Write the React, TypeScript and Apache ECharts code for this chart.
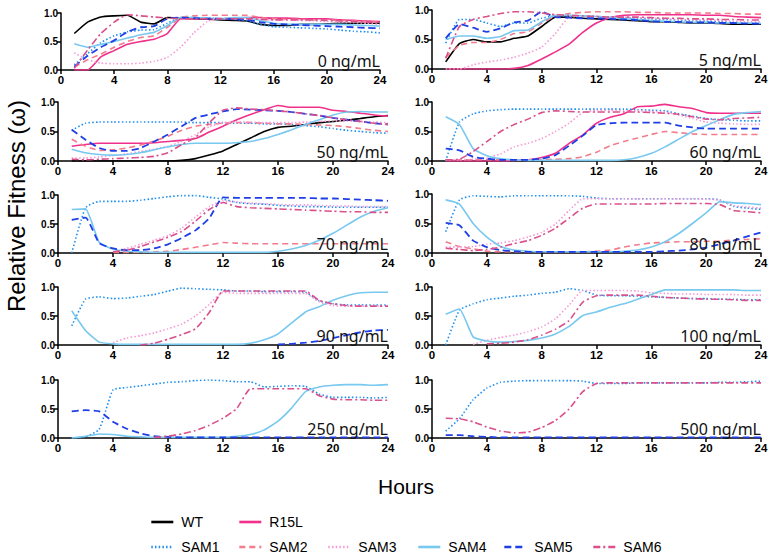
import React, { useEffect, useRef } from "react";
import * as echarts from "echarts";

const HOURS = [1, 2, 3, 4, 5, 6, 7, 8, 9, 10, 11, 12, 13, 14, 15, 16, 17, 18, 19, 20, 21, 22, 23, 24];
const X_TICKS = [0, 4, 8, 12, 16, 20, 24];
const Y_TICKS = [0, 0.5, 1.0];
const PANEL_LABELS = ["0 ng/mL", "5 ng/mL", "50 ng/mL", "60 ng/mL", "70 ng/mL", "80 ng/mL", "90 ng/mL", "100 ng/mL", "250 ng/mL", "500 ng/mL"];
const SERIES_NAMES = ["WT", "R15L", "SAM1", "SAM2", "SAM3", "SAM4", "SAM5", "SAM6"];

// 0 ng/mL
const WT_0 = [0.64, 0.84, 0.93, 0.95, 0.96, 0.84, 0.81, 0.92, 0.91, 0.90, 0.89, 0.88, 0.87, 0.86, 0.80, 0.78, 0.78, 0.80, 0.80, 0.81, 0.82, 0.82, 0.82, 0.82];
const R15L_0 = [0, 0, 0.23, 0.34, 0.45, 0.50, 0.54, 0.64, 0.90, 0.90, 0.90, 0.90, 0.91, 0.92, 0.92, 0.91, 0.91, 0.90, 0.90, 0.90, 0.88, 0.87, 0.86, 0.85];
const SAM1_0 = [0.09, 0.29, 0.48, 0.60, 0.67, 0.70, 0.71, 0.82, 0.92, 0.92, 0.91, 0.90, 0.89, 0.86, 0.80, 0.76, 0.75, 0.74, 0.73, 0.72, 0.70, 0.68, 0.67, 0.65];
const SAM2_0 = [0.05, 0.18, 0.28, 0.40, 0.50, 0.57, 0.60, 0.75, 0.92, 0.95, 0.96, 0.96, 0.96, 0.96, 0.92, 0.90, 0.89, 0.89, 0.88, 0.88, 0.87, 0.86, 0.85, 0.84];
const SAM3_0 = [0.30, 0.18, 0.12, 0.11, 0.11, 0.12, 0.15, 0.22, 0.40, 0.65, 0.85, 0.90, 0.90, 0.90, 0.89, 0.88, 0.88, 0.87, 0.86, 0.85, 0.84, 0.83, 0.82, 0.80];
const SAM4_0 = [0.46, 0.40, 0.45, 0.50, 0.56, 0.62, 0.66, 0.78, 0.92, 0.92, 0.91, 0.90, 0.92, 0.92, 0.87, 0.82, 0.80, 0.80, 0.80, 0.80, 0.80, 0.79, 0.78, 0.77];
const SAM5_0 = [0.06, 0.25, 0.40, 0.52, 0.67, 0.75, 0.77, 0.90, 0.92, 0.91, 0.90, 0.90, 0.89, 0.88, 0.84, 0.81, 0.80, 0.79, 0.78, 0.77, 0.76, 0.75, 0.74, 0.73];
const SAM6_0 = [0.03, 0.35, 0.64, 0.84, 0.97, 0.95, 0.93, 0.91, 0.90, 0.90, 0.90, 0.90, 0.90, 0.90, 0.89, 0.88, 0.88, 0.88, 0.88, 0.87, 0.86, 0.85, 0.84, 0.83];

// 5 ng/mL
const WT_5 = [0.12, 0.43, 0.50, 0.46, 0.46, 0.52, 0.56, 0.72, 0.88, 0.88, 0.86, 0.85, 0.84, 0.83, 0.82, 0.80, 0.80, 0.79, 0.78, 0.78, 0.77, 0.76, 0.76, 0.76];
const R15L_5 = [0, 0, 0, 0, 0, 0.01, 0.06, 0.17, 0.29, 0.42, 0.62, 0.78, 0.87, 0.91, 0.92, 0.92, 0.92, 0.92, 0.92, 0.91, 0.91, 0.89, 0.88, 0.87];
const SAM1_5 = [0.44, 0.84, 0.84, 0.78, 0.72, 0.78, 0.78, 0.86, 0.90, 0.90, 0.90, 0.89, 0.88, 0.87, 0.86, 0.85, 0.84, 0.83, 0.82, 0.81, 0.80, 0.79, 0.78, 0.77];
const SAM2_5 = [0.20, 0.40, 0.45, 0.45, 0.50, 0.60, 0.63, 0.78, 0.89, 0.94, 0.96, 0.97, 0.97, 0.97, 0.96, 0.96, 0.95, 0.95, 0.95, 0.95, 0.94, 0.94, 0.93, 0.93];
const SAM3_5 = [0, 0, 0.07, 0.12, 0.15, 0.20, 0.27, 0.37, 0.60, 0.88, 0.89, 0.89, 0.88, 0.88, 0.87, 0.86, 0.85, 0.84, 0.83, 0.83, 0.82, 0.81, 0.80, 0.80];
const SAM4_5 = [0.50, 0.56, 0.56, 0.52, 0.55, 0.65, 0.66, 0.80, 0.91, 0.91, 0.90, 0.89, 0.87, 0.85, 0.84, 0.82, 0.81, 0.80, 0.79, 0.79, 0.78, 0.78, 0.78, 0.77];
const SAM5_5 = [0.52, 0.76, 0.70, 0.63, 0.69, 0.79, 0.82, 0.97, 0.88, 0.87, 0.86, 0.86, 0.85, 0.84, 0.83, 0.81, 0.80, 0.80, 0.79, 0.79, 0.78, 0.78, 0.77, 0.77];
const SAM6_5 = [0.18, 0.72, 0.84, 0.89, 0.94, 0.97, 0.97, 0.95, 0.92, 0.91, 0.90, 0.89, 0.88, 0.88, 0.88, 0.87, 0.86, 0.86, 0.85, 0.85, 0.84, 0.84, 0.83, 0.83];

// 50 ng/mL
const WT_50 = [0, 0, 0, 0, 0, 0, 0, 0, 0.01, 0.04, 0.10, 0.17, 0.28, 0.39, 0.50, 0.57, 0.59, 0.62, 0.65, 0.67, 0.69, 0.72, 0.75, 0.77];
const R15L_50 = [0.25, 0.28, 0.30, 0.30, 0.30, 0.30, 0.31, 0.33, 0.35, 0.38, 0.49, 0.59, 0.70, 0.79, 0.87, 0.94, 0.91, 0.91, 0.91, 0.86, 0.84, 0.81, 0.78, 0.76];
const SAM1_50 = [0.52, 0.64, 0.66, 0.66, 0.66, 0.66, 0.66, 0.66, 0.66, 0.65, 0.65, 0.65, 0.64, 0.64, 0.63, 0.63, 0.62, 0.60, 0.58, 0.55, 0.52, 0.50, 0.48, 0.47];
const SAM2_50 = [0.37, 0.25, 0.18, 0.19, 0.22, 0.27, 0.34, 0.42, 0.52, 0.59, 0.62, 0.64, 0.65, 0.65, 0.64, 0.63, 0.63, 0.62, 0.61, 0.60, 0.58, 0.55, 0.52, 0.50];
const SAM3_50 = [0.05, 0.05, 0.07, 0.09, 0.12, 0.16, 0.20, 0.25, 0.33, 0.45, 0.58, 0.65, 0.66, 0.66, 0.65, 0.65, 0.65, 0.66, 0.67, 0.68, 0.68, 0.67, 0.66, 0.65];
const SAM4_50 = [0.20, 0.14, 0.11, 0.10, 0.11, 0.14, 0.19, 0.24, 0.28, 0.30, 0.30, 0.30, 0.31, 0.33, 0.38, 0.45, 0.53, 0.62, 0.70, 0.78, 0.83, 0.84, 0.83, 0.83];
const SAM5_50 = [0.53, 0.36, 0.22, 0.17, 0.17, 0.22, 0.33, 0.45, 0.59, 0.73, 0.79, 0.84, 0.88, 0.87, 0.86, 0.85, 0.83, 0.80, 0.77, 0.73, 0.70, 0.67, 0.64, 0.62];
const SAM6_50 = [0.03, 0.02, 0.03, 0.04, 0.05, 0.06, 0.08, 0.14, 0.28, 0.40, 0.65, 0.86, 0.90, 0.88, 0.87, 0.85, 0.83, 0.80, 0.77, 0.73, 0.70, 0.67, 0.64, 0.62];

// 60 ng/mL
const R15L_60 = [0, 0, 0, 0, 0, 0.01, 0.02, 0.06, 0.13, 0.30, 0.44, 0.64, 0.74, 0.80, 0.92, 0.93, 0.96, 0.92, 0.89, 0.82, 0.81, 0.81, 0.81, 0.81];
const SAM1_60 = [0, 0.66, 0.80, 0.85, 0.87, 0.88, 0.88, 0.88, 0.88, 0.88, 0.88, 0.88, 0.88, 0.88, 0.87, 0.86, 0.85, 0.80, 0.76, 0.72, 0.70, 0.69, 0.68, 0.68];
const SAM2_60 = [0.02, 0.02, 0.02, 0.02, 0.02, 0.02, 0.02, 0.02, 0.03, 0.04, 0.07, 0.15, 0.26, 0.33, 0.39, 0.45, 0.50, 0.48, 0.46, 0.45, 0.45, 0.45, 0.45, 0.45];
const SAM3_60 = [0.02, 0.02, 0.03, 0.05, 0.12, 0.24, 0.30, 0.38, 0.50, 0.64, 0.82, 0.86, 0.86, 0.85, 0.85, 0.84, 0.83, 0.78, 0.72, 0.66, 0.64, 0.63, 0.62, 0.62];
const SAM4_60 = [0.75, 0.62, 0.21, 0.09, 0.04, 0.02, 0.01, 0.01, 0.01, 0.01, 0.01, 0.01, 0.01, 0.02, 0.06, 0.13, 0.24, 0.37, 0.50, 0.60, 0.70, 0.79, 0.82, 0.84];
const SAM5_60 = [0.21, 0.18, 0.07, 0.04, 0.02, 0.02, 0.02, 0.04, 0.10, 0.26, 0.43, 0.61, 0.64, 0.65, 0.65, 0.65, 0.65, 0.60, 0.57, 0.55, 0.55, 0.55, 0.55, 0.55];
const SAM6_60 = [0.02, 0.03, 0.16, 0.33, 0.50, 0.62, 0.71, 0.82, 0.85, 0.84, 0.83, 0.83, 0.83, 0.83, 0.83, 0.82, 0.81, 0.79, 0.75, 0.71, 0.70, 0.72, 0.73, 0.74];

// 70 ng/mL
const SAM1_70 = [0, 0.78, 0.89, 0.89, 0.89, 0.91, 0.94, 0.97, 0.99, 0.99, 0.96, 0.93, 0.87, 0.85, 0.84, 0.82, 0.81, 0.80, 0.80, 0.79, 0.79, 0.79, 0.79, 0.79];
const SAM2_70 = [null, null, null, 0.01, 0.01, 0.01, 0.02, 0.03, 0.06, 0.10, 0.14, 0.18, 0.17, 0.16, 0.16, 0.16, 0.16, 0.16, 0.16, 0.16, 0.16, 0.16, 0.16, 0.16];
const SAM3_70 = [null, null, null, 0.02, 0.08, 0.15, 0.22, 0.30, 0.43, 0.62, 0.80, 0.90, 0.88, 0.86, 0.85, 0.84, 0.83, 0.83, 0.82, 0.81, 0.81, 0.80, 0.80, 0.80];
const SAM4_70 = [0.75, 0.76, 0.18, 0.07, 0.03, 0.02, 0.01, 0.01, 0.01, 0.01, 0.01, 0.01, 0.01, 0.01, 0.01, 0.03, 0.07, 0.13, 0.22, 0.34, 0.48, 0.62, 0.72, 0.78];
const SAM5_70 = [0.57, 0.61, 0.17, 0.08, 0.05, 0.05, 0.08, 0.15, 0.26, 0.39, 0.60, 0.96, 0.95, 0.95, 0.95, 0.95, 0.95, 0.95, 0.94, 0.94, 0.93, 0.92, 0.91, 0.90];
const SAM6_70 = [null, null, null, 0.02, 0.05, 0.11, 0.19, 0.27, 0.37, 0.55, 0.75, 0.87, 0.80, 0.78, 0.77, 0.76, 0.75, 0.74, 0.73, 0.72, 0.71, 0.71, 0.70, 0.70];

// 80 ng/mL
const SAM1_80 = [0.36, 0.90, 0.97, 0.96, 0.95, 0.97, 0.97, 0.97, 0.97, 0.97, 0.96, 0.93, 0.92, 0.92, 0.92, 0.92, 0.92, 0.92, 0.92, 0.92, 0.90, 0.79, 0.76, 0.74];
const SAM2_80 = [0.19, 0.11, 0.07, 0.03, 0.02, 0.02, 0.02, 0.02, 0.02, 0.02, 0.02, 0.03, 0.05, 0.10, 0.14, 0.17, 0.18, 0.19, 0.19, 0.20, 0.20, 0.22, 0.23, 0.24];
const SAM3_80 = [0.10, 0.10, 0.11, 0.15, 0.17, 0.21, 0.27, 0.35, 0.49, 0.72, 0.92, 0.92, 0.92, 0.92, 0.92, 0.92, 0.92, 0.92, 0.92, 0.91, 0.90, 0.80, 0.78, 0.76];
const SAM4_80 = [0.90, 0.83, 0.50, 0.27, 0.11, 0.05, 0.03, 0.02, 0.02, 0.02, 0.02, 0.02, 0.02, 0.03, 0.05, 0.10, 0.19, 0.33, 0.50, 0.68, 0.87, 0.85, 0.84, 0.82];
const SAM5_80 = [0.51, 0.47, 0.21, 0.10, 0.05, 0.03, 0.02, 0.02, 0.02, 0.02, 0.02, 0.02, 0.02, 0.02, 0.02, 0.02, 0.03, 0.04, 0.06, 0.09, 0.15, 0.21, 0.28, 0.35];
const SAM6_80 = [0.08, 0.06, 0.04, 0.06, 0.10, 0.16, 0.21, 0.30, 0.42, 0.59, 0.76, 0.83, 0.83, 0.83, 0.83, 0.83, 0.84, 0.84, 0.84, 0.84, 0.82, 0.72, 0.70, 0.68];

// 90 ng/mL
const SAM1_90 = [0.33, 0.79, 0.83, 0.80, 0.81, 0.84, 0.87, 0.93, 0.98, 0.97, 0.96, 0.95, 0.93, 0.93, 0.92, 0.92, 0.92, 0.91, 0.76, 0.71, 0.69, 0.69, 0.69, 0.69];
const SAM3_90 = [null, null, null, 0.04, 0.12, 0.16, 0.21, 0.28, 0.36, 0.50, 0.70, 0.91, 0.89, 0.89, 0.89, 0.89, 0.89, 0.89, 0.74, 0.68, 0.67, 0.67, 0.67, 0.67];
const SAM4_90 = [0.59, 0.25, 0.05, 0.02, 0.01, 0.01, 0.01, 0.01, 0.01, 0.01, 0.01, 0.01, 0.01, 0.03, 0.09, 0.19, 0.38, 0.57, 0.66, 0.77, 0.85, 0.90, 0.91, 0.91];
const SAM5_90 = [null, null, null, null, null, null, null, null, null, null, null, null, null, null, null, 0.01, 0.02, 0.04, 0.07, 0.12, 0.17, 0.22, 0.25, 0.26];
const SAM6_90 = [null, null, null, null, null, 0.0, 0.03, 0.10, 0.18, 0.28, 0.56, 0.93, 0.93, 0.93, 0.93, 0.93, 0.93, 0.93, 0.77, 0.71, 0.68, 0.67, 0.67, 0.67];

// 100 ng/mL
const SAM1_100 = [0, 0.60, 0.71, 0.78, 0.81, 0.84, 0.86, 0.89, 0.91, 0.97, 0.94, 0.86, 0.85, 0.85, 0.84, 0.83, 0.82, 0.81, 0.80, 0.80, 0.79, 0.79, 0.78, 0.78];
const SAM3_100 = [null, null, 0.01, 0.08, 0.13, 0.17, 0.23, 0.31, 0.45, 0.69, 0.94, 0.94, 0.94, 0.94, 0.93, 0.90, 0.89, 0.88, 0.88, 0.87, 0.87, 0.87, 0.86, 0.86];
const SAM4_100 = [0.53, 0.62, 0.14, 0.07, 0.05, 0.06, 0.08, 0.12, 0.19, 0.32, 0.51, 0.57, 0.65, 0.71, 0.79, 0.87, 0.95, 0.95, 0.95, 0.95, 0.95, 0.95, 0.94, 0.94];
const SAM6_100 = [null, null, null, 0.02, 0.03, 0.05, 0.09, 0.17, 0.27, 0.42, 0.74, 0.85, 0.86, 0.86, 0.86, 0.84, 0.82, 0.81, 0.80, 0.79, 0.79, 0.78, 0.77, 0.77];

// 250 ng/mL
const SAM1_250 = [0, 0.02, 0.15, 0.83, 0.87, 0.90, 0.93, 0.96, 0.97, 0.99, 1.0, 0.99, 0.97, 0.97, 0.88, 0.89, 0.90, 0.89, 0.76, 0.70, 0.70, 0.70, 0.69, 0.70];
const SAM4_250 = [0, 0.03, 0.07, 0.06, 0.03, 0.02, 0.01, 0.01, 0.01, 0.01, 0.01, 0.01, 0.03, 0.06, 0.14, 0.29, 0.52, 0.80, 0.88, 0.91, 0.92, 0.92, 0.91, 0.92];
const SAM5_250 = [0.46, 0.48, 0.46, 0.28, 0.16, 0.08, 0.03, 0.02, 0.01, 0.01, 0.01, 0.01, 0.01, 0.01, 0.01, 0.01, 0.01, 0.01, 0.01, 0.01, 0.01, 0.01, 0.01, 0.01];
const SAM6_250 = [null, null, null, null, null, null, 0.01, 0.03, 0.07, 0.13, 0.22, 0.34, 0.51, 0.85, 0.85, 0.85, 0.85, 0.85, 0.73, 0.67, 0.66, 0.66, 0.65, 0.65];

// 500 ng/mL
const SAM1_500 = [0.12, 0.33, 0.66, 0.86, 0.96, 0.98, 0.99, 0.99, 0.99, 0.99, 0.98, 0.94, 0.94, 0.94, 0.95, 0.95, 0.95, 0.95, 0.95, 0.95, 0.96, 0.96, 0.97, 0.98];
const SAM5_500 = [0.05, 0.05, 0.03, 0.02, 0.01, 0.01, 0.01, 0.01, 0.01, 0.01, 0.01, 0.01, 0.01, 0.01, 0.01, 0.01, 0.01, 0.01, 0.01, 0.01, 0.01, 0.01, 0.01, 0.01];
const SAM6_500 = [0.34, 0.33, 0.28, 0.19, 0.12, 0.09, 0.10, 0.18, 0.30, 0.50, 0.80, 0.94, 0.95, 0.95, 0.95, 0.95, 0.95, 0.95, 0.95, 0.95, 0.95, 0.95, 0.95, 0.95];

const PANEL_DATA: Record<string, (number | null)[]>[] = [
  { WT: WT_0, R15L: R15L_0, SAM1: SAM1_0, SAM2: SAM2_0, SAM3: SAM3_0, SAM4: SAM4_0, SAM5: SAM5_0, SAM6: SAM6_0 },
  { WT: WT_5, R15L: R15L_5, SAM1: SAM1_5, SAM2: SAM2_5, SAM3: SAM3_5, SAM4: SAM4_5, SAM5: SAM5_5, SAM6: SAM6_5 },
  { WT: WT_50, R15L: R15L_50, SAM1: SAM1_50, SAM2: SAM2_50, SAM3: SAM3_50, SAM4: SAM4_50, SAM5: SAM5_50, SAM6: SAM6_50 },
  { R15L: R15L_60, SAM1: SAM1_60, SAM2: SAM2_60, SAM3: SAM3_60, SAM4: SAM4_60, SAM5: SAM5_60, SAM6: SAM6_60 },
  { SAM1: SAM1_70, SAM2: SAM2_70, SAM3: SAM3_70, SAM4: SAM4_70, SAM5: SAM5_70, SAM6: SAM6_70 },
  { SAM1: SAM1_80, SAM2: SAM2_80, SAM3: SAM3_80, SAM4: SAM4_80, SAM5: SAM5_80, SAM6: SAM6_80 },
  { SAM1: SAM1_90, SAM3: SAM3_90, SAM4: SAM4_90, SAM5: SAM5_90, SAM6: SAM6_90 },
  { SAM1: SAM1_100, SAM3: SAM3_100, SAM4: SAM4_100, SAM6: SAM6_100 },
  { SAM1: SAM1_250, SAM4: SAM4_250, SAM5: SAM5_250, SAM6: SAM6_250 },
  { SAM1: SAM1_500, SAM5: SAM5_500, SAM6: SAM6_500 },
];

// layout (pixels)
const GRIDS = [
  { left: 61, top: 13, width: 319, height: 57 },
  { left: 432, top: 10, width: 329, height: 59 },
  { left: 58, top: 102, width: 330, height: 59 },
  { left: 432, top: 102, width: 329, height: 59 },
  { left: 58, top: 195, width: 330, height: 58 },
  { left: 432, top: 194, width: 329, height: 59 },
  { left: 58, top: 287, width: 330, height: 58 },
  { left: 432, top: 287, width: 329, height: 58 },
  { left: 58, top: 380, width: 330, height: 58 },
  { left: 432, top: 380, width: 329, height: 58 },
];

const STYLES: Record<string, { color: string; type: any; width: number }> = {
  WT: { color: "#000000", type: "solid", width: 1.6 },
  R15L: { color: "#f0308a", type: "solid", width: 1.6 },
  SAM1: { color: "#1e8ff0", type: [1.5, 2.2], width: 1.6 },
  SAM2: { color: "#f27b8c", type: [6, 4], width: 1.6 },
  SAM3: { color: "#f59ad5", type: [1.5, 2.2], width: 1.6 },
  SAM4: { color: "#78c8f0", type: "solid", width: 1.6 },
  SAM5: { color: "#1f3fe6", type: [7, 4], width: 1.8 },
  SAM6: { color: "#d9508a", type: [7, 3, 2, 3], width: 1.6 },
};

const LEGEND_POS: Record<string, [number, number]> = {
  WT: [150, 522],
  R15L: [238, 522],
  SAM1: [150, 547],
  SAM2: [238, 547],
  SAM3: [327, 547],
  SAM4: [417, 547],
  SAM5: [503, 547],
  SAM6: [592, 547],
};

const FONT = "'Liberation Sans', Arial, Helvetica, sans-serif";

export default function App() {
  const ref = useRef<HTMLDivElement>(null);
  useEffect(() => {
    if (!ref.current) return;
    const chart = echarts.init(ref.current, undefined, { renderer: "svg" });

    const grid = GRIDS.map((g) => ({ ...g, containLabel: false }));
    const xAxis = GRIDS.map((_, i) => ({
      type: "value",
      gridIndex: i,
      min: X_TICKS[0],
      max: X_TICKS[X_TICKS.length - 1],
      interval: X_TICKS[1] - X_TICKS[0],
      axisLine: { show: true, onZero: false, lineStyle: { color: "#000", width: 1.5 } },
      axisTick: { show: true, length: 4, lineStyle: { color: "#000", width: 1.5 } },
      axisLabel: { color: "#000", fontFamily: FONT, fontWeight: "bold", fontSize: 11.5, margin: 4 },
      splitLine: { show: false },
    }));
    const yAxis = GRIDS.map((_, i) => ({
      type: "value",
      gridIndex: i,
      min: Y_TICKS[0],
      max: Y_TICKS[Y_TICKS.length - 1],
      interval: Y_TICKS[1] - Y_TICKS[0],
      axisLine: { show: true, lineStyle: { color: "#000", width: 1.5 } },
      axisTick: { show: true, length: 4, lineStyle: { color: "#000", width: 1.5 } },
      axisLabel: {
        color: "#000",
        fontFamily: FONT,
        fontWeight: "bold",
        fontSize: 10,
        margin: 3,
        formatter: (v: number) => v.toFixed(1),
      },
      splitLine: { show: false },
    }));

    const series: any[] = [];
    PANEL_DATA.forEach((panel, i) => {
      SERIES_NAMES.forEach((name) => {
        const arr = panel[name];
        if (!arr) return;
        const st = STYLES[name];
        series.push({
          type: "line",
          name,
          xAxisIndex: i,
          yAxisIndex: i,
          symbol: "none",
          smooth: 0.15,
          clip: true,
          data: HOURS.map((h, k) => [h, arr[k]]).filter((p) => p[1] !== null),
          lineStyle: { color: st.color, type: st.type, width: st.width },
          itemStyle: { color: st.color },
        });
      });
    });

    const legend = SERIES_NAMES.map((name) => ({
      data: [name],
      left: LEGEND_POS[name][0],
      top: LEGEND_POS[name][1] - 7,
      padding: 0,
      itemWidth: 22,
      itemHeight: 14,
      selectedMode: false,
      lineStyle: { width: 2.6 },
      itemStyle: { opacity: 0, borderWidth: 0 },
      textStyle: { fontFamily: FONT, fontSize: 14, color: "#000", padding: [0, 0, 0, 3] },
    }));

    const graphic: any[] = GRIDS.map((g, i) => ({
      type: "text",
      x: g.left + g.width,
      y: g.top + g.height - 1,
      style: {
        text: PANEL_LABELS[i],
        fontFamily: "'Noto Sans', sans-serif",
        fontSize: 16,
        fill: "#111",
        align: "right",
        verticalAlign: "bottom",
      },
      z: 10,
    }));
    graphic.push({
      type: "text",
      x: 16,
      y: 206,
      rotation: Math.PI / 2,
      style: {
        text: "Relative Fitness (ω)",
        fontFamily: FONT,
        fontSize: 24,
        fill: "#000",
        align: "center",
        verticalAlign: "middle",
      },
    });
    graphic.push({
      type: "text",
      x: 406,
      y: 486,
      style: {
        text: "Hours",
        fontFamily: FONT,
        fontSize: 21,
        fill: "#000",
        align: "center",
        verticalAlign: "middle",
      },
    });

    chart.setOption({
      animation: false,
      backgroundColor: "#ffffff",
      grid,
      xAxis,
      yAxis,
      series,
      legend,
      graphic,
    });
    return () => chart.dispose();
  }, []);
  return <div ref={ref} style={{ position: "fixed", left: 0, top: 0, width: 772, height: 560 }} />;
}
